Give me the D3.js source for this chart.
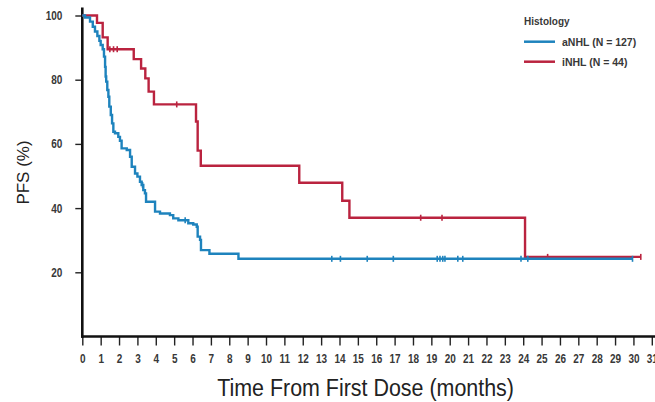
<!DOCTYPE html>
<html>
<head>
<meta charset="utf-8">
<script src="https://cdn.jsdelivr.net/npm/d3@7"></script>
<style>
  html, body { margin: 0; padding: 0; background: #fff; }
  svg { display: block; }
</style>
</head>
<body>
<svg id="chart" width="655" height="402"></svg>
<script>
// Kaplan-Meier progression-free survival by histology
const monthTicks = d3.range(0, 32);
const pfsTicks = [20, 40, 60, 80, 100];

const seriesNames = ["aNHL (N = 127)", "iNHL (N = 44)"];
const seriesColors = ["#1e83bd", "#ba233f"];

// aNHL: time (months) at which the estimate steps down, and the new PFS (%)
const aNHLTimes = [0, 0.15, 0.42, 0.57, 0.69, 0.82, 0.93, 1.0, 1.11, 1.18, 1.24, 1.27, 1.3, 1.36, 1.42, 1.47,
  1.55, 1.62, 1.69, 1.78, 1.96, 2.05, 2.14, 2.42, 2.6, 2.69, 2.87, 3.0, 3.14, 3.23, 3.32, 3.41, 3.47,
  3.96, 4.23, 4.77, 4.95, 5.23, 5.77, 6.04, 6.23, 6.28, 6.41, 6.46, 6.92, 8.5];
const aNHLValues = [100, 99.4, 98.1, 96.5, 95.0, 93.6, 92.1, 90.8, 89.5, 87.2, 84.0, 81.0, 79.4, 76.8, 74.7,
  71.6, 69.0, 66.4, 63.8, 63.3, 62.2, 61.0, 58.6, 58.1, 56.0, 52.9, 50.8, 49.8, 48.2, 47.2, 45.6, 44.6, 42.0,
  38.9, 38.3, 37.8, 36.8, 36.2, 35.3, 34.9, 34.2, 31.1, 30.1, 26.9, 25.8, 24.2];
const aNHLEnd = 29.95;
const aNHLCensored = [3.28, 5.6, 13.58, 14.05, 15.51, 16.93, 19.32, 19.47, 19.62, 19.74, 20.44, 20.71,
  23.88, 24.25, 29.95];

// iNHL
const iNHLTimes = [0, 0.8, 1.11, 1.38, 2.8, 3.2, 3.43, 3.61, 3.9, 6.19, 6.28, 6.45, 11.81, 14.15, 14.54, 24.1];
const iNHLValues = [100, 97.7, 93.2, 89.5, 86.4, 83.5, 80.4, 76.3, 72.3, 67.0, 57.9, 53.2, 47.9, 42.3, 37.0, 24.8];
const iNHLEnd = 30.4;
const iNHLCensored = [1.5, 1.7, 1.9, 5.14, 18.42, 19.58, 25.33, 30.4];

const svg = d3.select("#chart");
const W = 655;

const x = d3.scaleLinear().domain([0, 31]).range([82.3, 651.8]);
const y = d3.scaleLinear().domain([0, 100]).range([336.5, 15.5]);

const sansFont = "'Liberation Sans', Arial, sans-serif";
const textColor = "#383838";
const narrow = 0.8; // horizontal squeeze giving a condensed face

// y axis
const yAxis = svg.append("g")
  .attr("transform", `translate(${x(0)},0)`)
  .call(d3.axisLeft(y).tickValues(pfsTicks).tickSize(7).tickPadding(12));
yAxis.select(".domain").remove();
yAxis.selectAll(".tick line").attr("stroke", "#222").attr("stroke-width", 1.4);
yAxis.selectAll(".tick text")
  .attr("x", 0)
  .attr("transform", `translate(-20,0) scale(${narrow},1)`)
  .attr("fill", textColor)
  .style("font-family", sansFont)
  .style("font-weight", "bold")
  .style("font-size", "12.5px");

// x axis
const xAxis = svg.append("g")
  .attr("transform", `translate(0,${y(0)})`)
  .call(d3.axisBottom(x).tickValues(monthTicks).tickSize(9).tickPadding(9));
xAxis.select(".domain").remove();
xAxis.selectAll(".tick line").attr("stroke", "#222").attr("stroke-width", 1.4);
xAxis.selectAll(".tick text")
  .attr("transform", `scale(${narrow},1)`)
  .attr("fill", textColor)
  .style("font-family", sansFont)
  .style("font-weight", "bold")
  .style("font-size", "12.5px");

// axis lines
svg.append("line")
  .attr("x1", x(0)).attr("x2", x(0))
  .attr("y1", y(100) - 8).attr("y2", y(0) + 1.2)
  .attr("stroke", "#111").attr("stroke-width", 2.6);
svg.append("line")
  .attr("x1", x(0) - 1.2).attr("x2", W)
  .attr("y1", y(0)).attr("y2", y(0))
  .attr("stroke", "#111").attr("stroke-width", 2.6);

// axis titles
const titleX = (x(0) + x(31)) / 2 - 1.5;
svg.append("text")
  .attr("transform", `translate(${titleX},396) scale(0.875,1)`)
  .attr("text-anchor", "middle")
  .attr("fill", "#222")
  .style("font-family", sansFont)
  .style("font-size", "24.5px")
  .text("Time From First Dose (months)");

svg.append("text")
  .attr("transform", "translate(23,172.5) rotate(-90)")
  .attr("text-anchor", "middle")
  .attr("dominant-baseline", "central")
  .attr("fill", "#222")
  .style("font-family", sansFont)
  .style("font-size", "17px")
  .text("PFS (%)");

// survival curves
const series = [
  { times: aNHLTimes, values: aNHLValues, end: aNHLEnd, censored: aNHLCensored, color: seriesColors[0] },
  { times: iNHLTimes, values: iNHLValues, end: iNHLEnd, censored: iNHLCensored, color: seriesColors[1] }
];

const stepLine = d3.line()
  .x(d => x(d[0]))
  .y(d => y(d[1]))
  .curve(d3.curveStepAfter);

const bisect = d3.bisector(d => d).right;

series.slice().reverse().forEach(s => {
  const pts = s.times.map((t, i) => [t, s.values[i]]);
  pts.push([s.end, s.values[s.values.length - 1]]);
  const g = svg.append("g");
  g.append("path")
    .attr("d", stepLine(pts))
    .attr("fill", "none")
    .attr("stroke", s.color)
    .attr("stroke-width", 2.4)
    .attr("stroke-linejoin", "miter");
  // censoring ticks
  const level = t => y(s.values[Math.max(0, bisect(s.times, t) - 1)]);
  g.selectAll("line.cens")
    .data(s.censored)
    .join("line")
    .attr("class", "cens")
    .attr("x1", d => x(d)).attr("x2", d => x(d))
    .attr("y1", d => level(d) - 3)
    .attr("y2", d => level(d) + 3)
    .attr("stroke", s.color)
    .attr("stroke-width", 1.6);
});

// legend
const legend = svg.append("g").attr("transform", "translate(524,0)");
legend.append("text")
  .attr("x", 0).attr("y", 24.5)
  .attr("fill", textColor)
  .style("font-family", sansFont)
  .style("font-weight", "bold")
  .style("font-size", "10px")
  .text("Histology");
seriesNames.forEach((name, i) => {
  const ly = 41.7 + i * 20;
  legend.append("line")
    .attr("x1", 0).attr("x2", 31)
    .attr("y1", ly).attr("y2", ly)
    .attr("stroke", seriesColors[i])
    .attr("stroke-width", 2.5);
  legend.append("text")
    .attr("x", 38).attr("y", ly)
    .attr("dominant-baseline", "central")
    .attr("fill", textColor)
    .style("font-family", sansFont)
    .style("font-weight", "bold")
    .style("font-size", "10.5px")
    .text(name);
});
</script>
</body>
</html>
